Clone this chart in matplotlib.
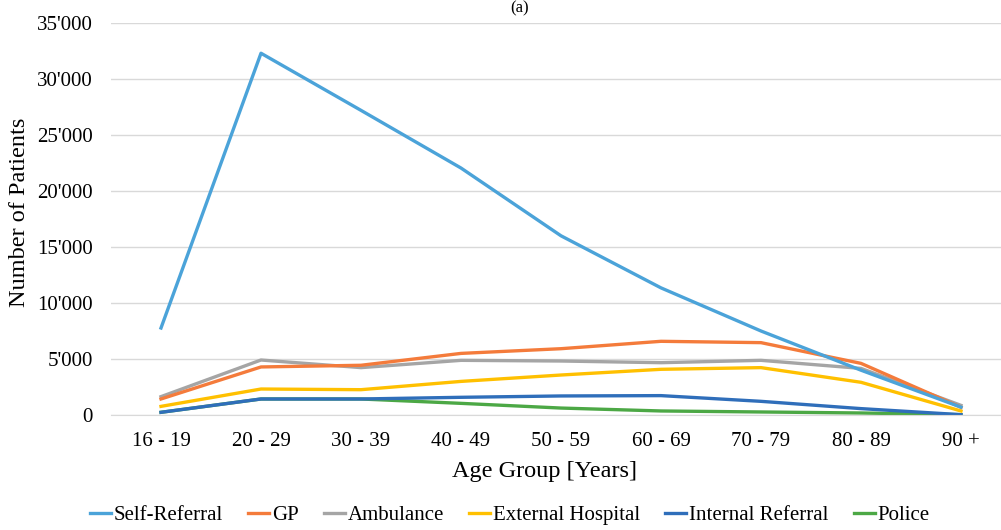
import numpy as np
import matplotlib.pyplot as plt
from matplotlib.ticker import FuncFormatter, MultipleLocator

# ----------------------- data ---------------------------------------------- #
age_groups = ["16 - 19", "20 - 29", "30 - 39", "40 - 49", "50 - 59",
              "60 - 69", "70 - 79", "80 - 89", "90 +"]

self_referral = [7770, 32300, 27200, 22050, 16000, 11350, 7500, 4000, 700]
gp = [1430, 4290, 4440, 5500, 5920, 6580, 6460, 4610, 690]
ambulance = [1640, 4910, 4230, 4880, 4820, 4670, 4880, 4160, 860]
external_hospital = [770, 2320, 2260, 3000, 3570, 4080, 4230, 2920, 360]
internal_referral = [240, 1430, 1430, 1580, 1700, 1730, 1220, 570, 30]
police = [240, 1430, 1430, 1040, 620, 360, 270, 180, 30]

series = [
    ("Self-Referral", self_referral, "#4BA3D9"),
    ("GP", gp, "#F47B3B"),
    ("Ambulance", ambulance, "#A5A5A5"),
    ("External Hospital", external_hospital, "#FFC000"),
    ("Internal Referral", internal_referral, "#2F6EBA"),
    ("Police", police, "#4CA845"),
]

#-----------------------------------------------------------------------------#

plt.rcParams['font.family'] = ['Liberation Serif', 'DejaVu Serif']

W, H = 1001, 530
fig = plt.figure(figsize=(W / 100, H / 100), dpi=100)

# axes in pixel terms: x from 111 to 1011, y from 23 (top) to 415 (bottom)
ax = fig.add_axes([111 / W, 1 - 415 / H, 900 / W, (415 - 23) / H])

x = np.arange(len(age_groups))
# draw back to front so that the first series ends on top as in Excel
for name, vals, col in reversed(series):
    ax.plot(x, vals, color=col, lw=2.4, label=name, solid_joinstyle='round')

ax.set_xlim(-0.5, len(age_groups) - 0.5)
ax.set_ylim(0, 35000)
ax.yaxis.set_major_locator(MultipleLocator(5000))
ax.yaxis.set_major_formatter(
    FuncFormatter(lambda v, p: f"{int(v):,}".replace(",", "'")))
ax.set_xticks(x)
ax.set_xticklabels(age_groups)

ax.grid(axis='y', color='#D9D9D9', lw=1)
ax.set_axisbelow(True)
for s in ['top', 'right', 'left']:
    ax.spines[s].set_visible(False)
ax.spines['bottom'].set_color('#D9D9D9')
ax.tick_params(axis='both', length=0, labelsize=15, colors='#000000')
ax.tick_params(axis='x', pad=12)
ax.tick_params(axis='y', pad=13)

fig.text(545 / W, 1 - 472 / H, "Age Group [Years]", ha='center', va='center',
         fontsize=17.5)
fig.text(20 / W, 1 - 212 / H, "Number of Patients", ha='center', va='center',
         rotation=90, fontsize=17.5)

# panel title at the very top (cropped in the source figure)
fig.text(520 / W, 1.0, "(a)", ha='center', va='top', fontsize=12)

handles, labels = ax.get_legend_handles_labels()
fig.legend(handles[::-1], labels[::-1], loc='center', ncol=6,
           bbox_to_anchor=(510 / W, 1 - 515 / H), frameon=False,
           fontsize=15, handlelength=1.0, handletextpad=0.15,
           columnspacing=1.2)

fig.savefig("out.png", dpi=100)
